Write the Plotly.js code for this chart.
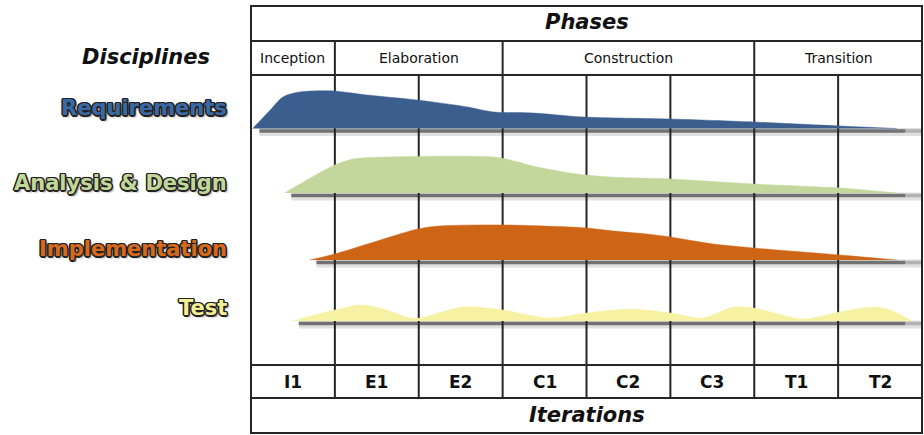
<!DOCTYPE html>
<html>
<head>
<meta charset="utf-8">
<script src="https://cdn.plot.ly/plotly-3.0.1.min.js"></script>
<style>html,body{margin:0;padding:0;background:#fff;}#chart{width:924px;height:435px;}</style>
</head>
<body>
<div id="chart"></div>
<script>
// ---------- data ----------
const iterations = ["I1", "E1", "E2", "C1", "C2", "C3", "T1", "T2"];
const phases = ["Inception", "Elaboration", "Construction", "Transition"];
const phaseSpans = [1, 2, 3, 2]; // iterations per phase
const disciplines = ["Requirements", "Analysis & Design", "Implementation", "Test"];

// effort curves: position along the iteration axis and relative effort
const reqX = [0.02, 0.23, 0.38, 0.58, 0.98, 1.38, 1.98, 2.58, 2.89, 3.36, 3.96, 5.0, 5.99, 7.02, 7.7];
const reqY = [0, 18.5, 31.5, 36.5, 37.5, 33.5, 28.5, 21.5, 16.5, 15.5, 11.5, 9.5, 6.5, 2.5, 0];

const adX = [0.4, 1.0, 1.22, 1.62, 2.89, 3.09, 3.41, 3.89, 4.28, 5.0, 5.99, 7.02, 7.7];
const adY = [0, 28, 34, 36, 36, 33, 26, 19, 16, 14, 9, 5, 0];

const implX = [0.7, 1.0, 1.99, 2.25, 3.0, 4.0, 4.32, 4.72, 5.0, 5.51, 5.99, 7.02, 7.7];
const implY = [0, 6, 31, 34, 35, 32, 29, 26, 23, 16, 12, 5, 0];

const testX = [0.49, 1.0, 1.3, 1.54, 1.9, 2.02, 2.53, 3.0, 3.53, 4.0, 4.52, 5.0, 5.39, 5.75, 5.99, 6.58, 7.02, 7.42, 7.62, 7.88];
const testY = [0, 11, 16, 13, 3, 3, 14, 11, 3, 8, 12, 8, 3, 14, 13, 2, 9, 14, 11, 0];

// ---------- styling / layout config ----------
const curveX = [reqX, adX, implX, testX];
const curveY = [reqY, adY, implY, testY];
const fillColors = ["#3b5e8e", "#c3d69b", "#cd6416", "#f6f1a3"];
const labelColors = ["#3a6aa6", "#c2d89a", "#d6691c", "#f3ef96"];
const baselines = [306.5, 242, 175, 114];   // in layout units (0 = bottom of page)
const labelY = [327, 252, 186, 127];

const H = 435;
const rowLines = [429, 394, 360, 70, 37, 2];   // horizontal rules
const lineColor = "#262626";

const traces = [];
const shapes = [];
const annotations = [];

const n = iterations.length;
shapes.push({type: "rect", xref: "x", yref: "y", x0: 0, x1: n, y0: rowLines[5], y1: rowLines[0],
  line: {color: lineColor, width: 2}, layer: "below"});
[1, 2, 3, 4].forEach(i => shapes.push({type: "line", xref: "x", yref: "y", x0: 0, x1: n,
  y0: rowLines[i], y1: rowLines[i], line: {color: lineColor, width: 2}, layer: "below"}));
for (let i = 1; i < n; i++) {
  shapes.push({type: "line", xref: "x", yref: "y", x0: i, x1: i, y0: rowLines[4], y1: rowLines[2],
    line: {color: lineColor, width: 2}, layer: "below"});
}
let acc = 0;
phases.forEach((p, i) => {
  const start = acc;
  acc += phaseSpans[i];
  if (i < phases.length - 1) {
    shapes.push({type: "line", xref: "x", yref: "y", x0: acc, x1: acc, y0: rowLines[2], y1: rowLines[1],
      line: {color: lineColor, width: 2}, layer: "below"});
  }
  annotations.push({x: (start + acc) / 2, y: 377, xref: "x", yref: "y", text: p, showarrow: false,
    font: {family: "DejaVu Sans", size: 14, color: "#111", weight: 500}});
});

iterations.forEach((it, i) => {
  annotations.push({x: i + 0.5, y: 53, xref: "x", yref: "y", text: it, showarrow: false,
    font: {family: "DejaVu Sans", size: 17, color: "#111", weight: 700}});
});

annotations.push({x: n / 2, y: 413, xref: "x", yref: "y", text: "Phases", showarrow: false,
  font: {family: "DejaVu Sans", size: 21, color: "#111", weight: 700, style: "italic"}});
annotations.push({x: n / 2, y: 20, xref: "x", yref: "y", text: "Iterations", showarrow: false,
  font: {family: "DejaVu Sans", size: 21, color: "#111", weight: 700, style: "italic"}});
annotations.push({x: -1.25, y: 378, xref: "x", yref: "y", text: "Disciplines", showarrow: false,
  font: {family: "DejaVu Sans", size: 21, color: "#111", weight: 700, style: "italic"}});

const outline = "-1px -1px 0 #222, 1px -1px 0 #222, -1px 1px 0 #222, 1px 1px 0 #222, 0 -1.5px 0 #222, 0 1.5px 0 #222, -1.5px 0 0 #222, 1.5px 0 0 #222, 2px 2px 2px #777";

disciplines.forEach((d, i) => {
  const base = baselines[i];
  const xs = curveX[i];
  const ys = curveY[i].map(v => base + v);
  const x0 = xs[0];
  traces.push({x: [x0 + 0.08, 8.0], y: [base - 3.5, base - 3.5], mode: "lines", hoverinfo: "skip",
    line: {color: "rgba(0,0,0,0.12)", width: 8}, showlegend: false});
  traces.push({x: [x0 + 0.08, 7.8], y: [base - 2.5, base - 2.5], mode: "lines", hoverinfo: "skip",
    line: {color: "rgba(40,40,40,0.6)", width: 3.5}, showlegend: false});
  traces.push({x: [7.8, 8.0], y: [base - 2.5, base - 2.5], mode: "lines", hoverinfo: "skip",
    line: {color: "rgba(40,40,40,0.25)", width: 3.5}, showlegend: false});
  traces.push({x: xs, y: ys, mode: "lines", fill: "toself", fillcolor: fillColors[i], name: d,
    line: {color: fillColors[i], width: 0.5, shape: "spline", smoothing: 0.8}, showlegend: false, hoverinfo: "name"});
  annotations.push({x: -0.26, y: labelY[i], xref: "x", yref: "y", xanchor: "right", text: d, showarrow: false,
    font: {family: "DejaVu Sans", size: 21, color: labelColors[i], weight: 700, shadow: outline}});
});

const layout = {
  width: 924, height: H, autosize: false,
  margin: {l: 0, r: 0, t: 0, b: 0, pad: 0},
  paper_bgcolor: "#fff", plot_bgcolor: "#fff",
  xaxis: {range: [-2.9925, 8.0238], visible: false, fixedrange: true},
  yaxis: {range: [0, H], visible: false, fixedrange: true},
  shapes: shapes, annotations: annotations, showlegend: false
};

Plotly.newPlot("chart", traces, layout, {staticPlot: true, displayModeBar: false});
</script>
</body>
</html>
